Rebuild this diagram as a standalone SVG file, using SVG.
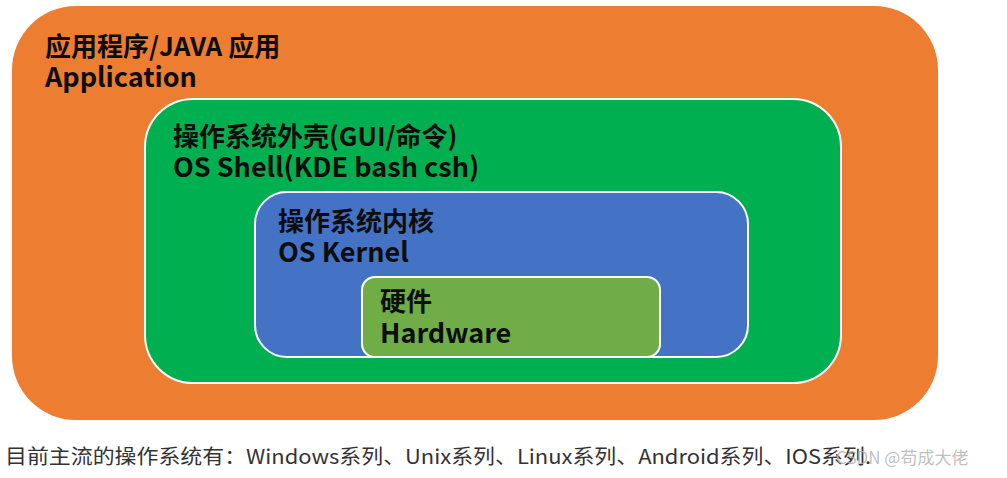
<svg xmlns="http://www.w3.org/2000/svg" width="1007" height="478" viewBox="0 0 1007 478">
<style>
.box{stroke:#ffffff;stroke-width:2}
.t{font-family:"Noto Sans CJK SC","Noto Sans",sans-serif;font-weight:bold;font-size:26px;fill:#0d0d0d}
.l{font-size:27px}
.cap{font-family:"Noto Sans CJK SC","Noto Sans",sans-serif;font-size:20px;fill:#333333}
.wm{font-family:"Noto Sans CJK SC","Noto Sans",sans-serif;font-size:17px;fill:#b4b4b4;fill-opacity:0.85}
</style>
<rect width="1007" height="478" fill="#ffffff"/>
<g id="app">
<rect x="12" y="6" width="926" height="414" rx="64" ry="64" fill="#ED7D31"/>
<text class="t" x="45" y="56">应用程序/JAVA 应用</text>
<text class="t l" x="45" y="87">Application</text>
</g>
<g id="shell">
<rect class="box" x="145" y="99" width="696" height="284" rx="48" ry="48" fill="#00B050"/>
<text class="t" x="173" y="146">操作系统外壳(GUI/命令)</text>
<text class="t l" x="173" y="177">OS Shell(KDE bash csh)</text>
</g>
<g id="kernel">
<rect class="box" x="255" y="192" width="493" height="165" rx="32" ry="32" fill="#4472C4"/>
<text class="t" x="278" y="231">操作系统内核</text>
<text class="t l" x="278" y="262">OS Kernel</text>
</g>
<g id="hardware">
<rect class="box" x="362" y="277" width="298" height="80" rx="13" ry="13" fill="#70AD47"/>
<text class="t" x="380" y="311">硬件</text>
<text class="t l" x="380" y="343">Hardware</text>
</g>
<g id="connectors"></g>
<text class="cap" x="5" y="464" textLength="866" lengthAdjust="spacingAndGlyphs">目前主流的操作系统有：Windows系列、Unix系列、Linux系列、Android系列、IOS系列.</text>
<text class="wm" x="836" y="464">CSDN @苟成大佬</text>
</svg>
